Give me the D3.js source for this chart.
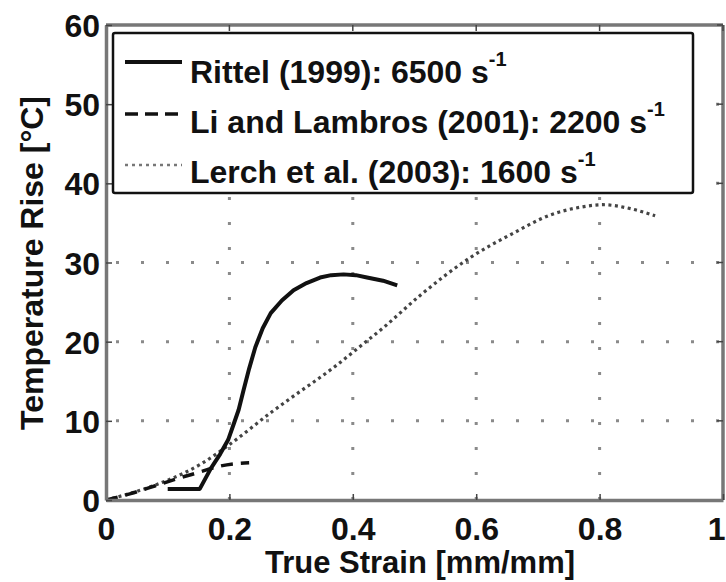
<!DOCTYPE html>
<html><head><meta charset="utf-8">
<script src="https://cdn.jsdelivr.net/npm/d3@7"></script>
<style>
html,body{margin:0;padding:0;background:#fff;}
svg{display:block;}
text{font-family:"Liberation Sans",Arial,sans-serif;font-weight:bold;fill:#111;}
</style></head>
<body>
<script>
// ---- data ----
const rittelX = [0.10, 0.152, 0.17, 0.185, 0.198, 0.207, 0.215, 0.223, 0.232, 0.242, 0.254, 0.267, 0.285, 0.304, 0.325, 0.347, 0.365, 0.385, 0.405, 0.423, 0.449, 0.472];
const rittelY = [1.4, 1.4, 4.0, 5.8, 7.6, 9.6, 11.4, 13.9, 16.6, 19.3, 21.7, 23.6, 25.2, 26.5, 27.4, 28.1, 28.4, 28.5, 28.4, 28.1, 27.7, 27.1];
const liX = [0, 0.04, 0.08, 0.12, 0.155, 0.18, 0.21, 0.232];
const liY = [0, 0.8, 1.8, 2.8, 3.6, 4.2, 4.6, 4.7];
const lerchX = [0, 0.05, 0.10, 0.153, 0.20, 0.27, 0.30, 0.37, 0.415, 0.45, 0.51, 0.59, 0.66, 0.72, 0.77, 0.805, 0.85, 0.89];
const lerchY = [0, 1.1, 2.5, 4.5, 7.0, 11.2, 12.9, 16.8, 19.6, 21.8, 25.9, 30.6, 33.7, 36.0, 37.0, 37.3, 36.8, 35.9];
const xTicks = [0, 0.2, 0.4, 0.6, 0.8, 1];
const xTickLabels = ["0", "0.2", "0.4", "0.6", "0.8", "1"];
const yTicks = [0, 10, 20, 30, 40, 50, 60];
const yTickLabels = ["0", "10", "20", "30", "40", "50", "60"];
const xGrid = [0.2, 0.4, 0.6, 0.8];
const yGrid = [10, 20, 30, 40, 50];
const seriesNames = ["Rittel (1999): 6500 s", "Li and Lambros (2001): 2200 s", "Lerch et al. (2003): 1600 s"];
const xTitle = "True Strain [mm/mm]";
const yTitle = "Temperature Rise [°C]";

// ---- layout ----
const W = 726, H = 582;
const L = 106, R = 723, T = 25, B = 500;
const x = d3.scaleLinear().domain([0, 1]).range([L, R]);
const y = d3.scaleLinear().domain([0, 60]).range([B, T]);

const svg = d3.select("body").append("svg").attr("width", W).attr("height", H);

// grid
const grid = svg.append("g").attr("stroke", "#8a8a8a").attr("stroke-width", 3).attr("stroke-dasharray", "3 22");
grid.selectAll(".gy").data(yGrid).join("line")
  .attr("x1", x(0) + 10).attr("x2", x(1)).attr("y1", d => y(d)).attr("y2", d => y(d));
grid.selectAll(".gx").data(xGrid).join("line")
  .attr("x1", d => x(d)).attr("x2", d => x(d)).attr("y1", y(0)).attr("y2", y(60));

// series
const line = d3.line().x(d => x(d[0])).y(d => y(d[1])).curve(d3.curveMonotoneX);
const zip = (a, b) => a.map((v, i) => [v, b[i]]);
svg.append("path").datum(zip(lerchX, lerchY)).attr("d", line)
  .attr("fill", "none").attr("stroke", "#444").attr("stroke-width", 3.2).attr("stroke-dasharray", "3 3.5");
svg.append("path").datum(zip(liX, liY)).attr("d", line)
  .attr("fill", "none").attr("stroke", "#111").attr("stroke-width", 3.5).attr("stroke-dasharray", "12 8");
svg.append("path").datum(zip(rittelX, rittelY)).attr("d", d3.line().x(d => x(d[0])).y(d => y(d[1])))
  .attr("fill", "none").attr("stroke", "#111").attr("stroke-width", 4).attr("stroke-linejoin", "round");

// frame top/right
svg.append("line").attr("x1", L).attr("x2", R).attr("y1", T).attr("y2", T).attr("stroke", "#777").attr("stroke-width", 3.5);
svg.append("line").attr("x1", R).attr("x2", R).attr("y1", T).attr("y2", B).attr("stroke", "#777").attr("stroke-width", 3.5);
// inward ticks on top/right
svg.append("g").selectAll("line").data(xTicks).join("line")
  .attr("x1", d => x(d)).attr("x2", d => x(d)).attr("y1", T).attr("y2", T + 6).attr("stroke", "#444").attr("stroke-width", 1.5);
svg.append("g").selectAll("line").data(yTicks).join("line")
  .attr("x1", R - 6).attr("x2", R).attr("y1", d => y(d)).attr("y2", d => y(d)).attr("stroke", "#444").attr("stroke-width", 1.5);

// axes
const xAxis = svg.append("g").attr("transform", `translate(0,${B})`)
  .call(d3.axisBottom(x).tickValues(xTicks).tickFormat((d, i) => xTickLabels[i]).tickSizeInner(-6).tickSizeOuter(0));
xAxis.select(".domain").attr("stroke", "#777").attr("stroke-width", 3.5);
xAxis.selectAll(".tick line").attr("stroke", "#444").attr("stroke-width", 1.5);
xAxis.selectAll(".tick text").attr("y", 40).attr("dy", 0).style("font-size", "32px").attr("fill", "#111")
  .style("font-family", "'Liberation Sans',Arial,sans-serif").style("font-weight", "bold")
  .attr("text-anchor", (d, i) => i === xTicks.length - 1 ? "end" : "middle")
  .attr("x", (d, i) => i === xTicks.length - 1 ? 2 : 0);

const yAxis = svg.append("g").attr("transform", `translate(${L},0)`)
  .call(d3.axisLeft(y).tickValues(yTicks).tickFormat((d, i) => yTickLabels[i]).tickSizeInner(-6).tickSizeOuter(0).tickPadding(6));
yAxis.select(".domain").attr("stroke", "#777").attr("stroke-width", 3.5);
yAxis.selectAll(".tick line").attr("stroke", "#444").attr("stroke-width", 1.5);
yAxis.selectAll(".tick text").attr("dy", "0.36em").style("font-size", "32px").attr("fill", "#111")
  .style("font-family", "'Liberation Sans',Arial,sans-serif").style("font-weight", "bold");

// axis titles
svg.append("text").attr("x", 420).attr("y", 573).attr("text-anchor", "middle").style("font-size", "31px").text(xTitle);
svg.append("text").attr("transform", "translate(43,263) rotate(-90)").attr("text-anchor", "middle").style("font-size", "32px").text(yTitle);

// legend
const lg = svg.append("g");
lg.append("rect").attr("x", 113).attr("y", 33).attr("width", 580).attr("height", 160).attr("rx", 2)
  .attr("fill", "#fff").attr("stroke", "#111").attr("stroke-width", 2.5);
const styles = [
  {stroke: "#111", w: 4, dash: null},
  {stroke: "#111", w: 3.5, dash: "13 7"},
  {stroke: "#777", w: 2.5, dash: "3 4"}
];
const lineYs = [62, 114, 165];
const baseYs = [83, 133, 183];
seriesNames.forEach((name, i) => {
  lg.append("line").attr("x1", 125).attr("x2", 182).attr("y1", lineYs[i]).attr("y2", lineYs[i])
    .attr("stroke", styles[i].stroke).attr("stroke-width", styles[i].w).attr("stroke-dasharray", styles[i].dash);
  const t = lg.append("text").attr("x", 190).attr("y", baseYs[i]).style("font-size", "32px");
  t.append("tspan").text(name);
  t.append("tspan").attr("dy", -17).style("font-size", "20px").text("-1");
});
</script>
</body></html>
